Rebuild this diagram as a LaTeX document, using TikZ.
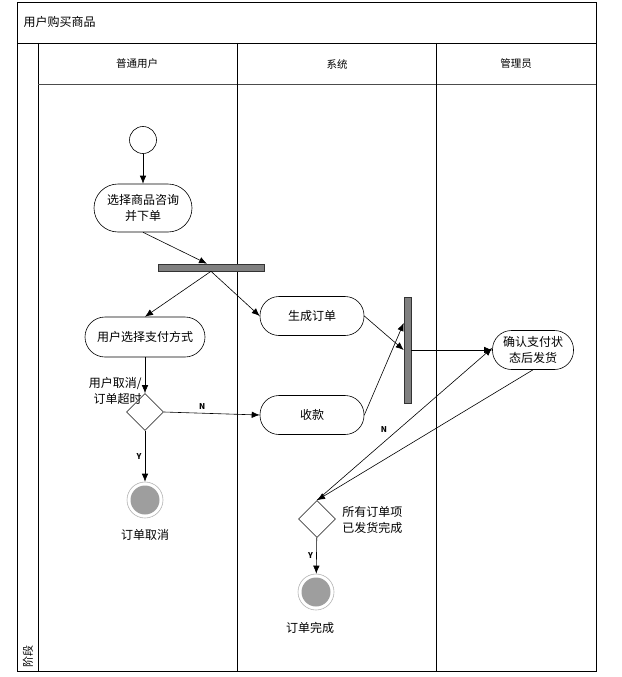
\documentclass[tikz,border=0pt]{standalone}
\usepackage{fontspec}
\setmainfont{Noto Sans CJK SC}
\usepackage{tikz}
\usetikzlibrary{arrows,arrows.meta,shapes.geometric}

\begin{document}
\begin{tikzpicture}[x=1pt,y=-1pt,->,>={Latex[length=8pt,width=6.5pt]},line width=0.6pt,auto,font=\fontsize{12}{16}\selectfont]
  \tikzstyle{action}=[rectangle,draw=black,rounded corners=19pt,minimum width=104pt,minimum height=39pt,align=center,inner sep=2pt]
  \tikzstyle{bar}=[rectangle,draw=black!80,fill=black!50,inner sep=0pt]
  \tikzstyle{choice}=[diamond,draw=black!75,minimum width=37pt,minimum height=37pt,inner sep=0pt]
  \tikzstyle{initial}=[circle,draw=black,minimum size=27pt,inner sep=0pt]
  \tikzstyle{final}=[circle,draw=black!30,minimum size=36pt,inner sep=0pt,
    path picture={\fill[black!38] (path picture bounding box.center) circle (14.5pt);}]
  \tikzstyle{yn}=[font=\fontsize{8}{8}\selectfont\bfseries]
  \tikzstyle{lane}=[-,draw=black,line width=0.7pt]

  \useasboundingbox (0,0) rectangle (621,677);

  % swimlanes
  \draw[lane] (17,2) rectangle (596,671);
  \draw[lane] (17,43) -- (596,43);
  \draw[lane] (38,43) -- (38,671);
  \draw[lane,draw=black!70] (38,84) -- (596,84);
  \draw[lane] (237,43) -- (237,671);
  \draw[lane] (436,43) -- (436,671);

  \node[anchor=west] (title) at (20,22) {用户购买商品};
  \node[font=\fontsize{10.5}{12}\selectfont] (user)  at (137,64) {普通用户};
  \node[font=\fontsize{10.5}{12}\selectfont] (sys)   at (337,64) {系统};
  \node[font=\fontsize{10.5}{12}\selectfont] (admin) at (516,64) {管理员};
  \node[rotate=90,font=\fontsize{11}{12}\selectfont] (stage) at (28,656) {阶段};

  % nodes
  \node[initial] (S)  at (143,140) {};
  \node[action,minimum width=98pt,minimum height=48pt,rounded corners=24pt] (A) at (143,208) {选择商品咨询\\并下单};
  \node[bar,minimum width=106pt,minimum height=7pt] (F) at (211,267.5) {};
  \node[action,minimum width=120pt,minimum height=40pt,rounded corners=20pt] (P) at (145,337) {用户选择支付方式};
  \node[choice] (D1) at (145,412) {};
  \node[final] (E1) at (145,500) {};
  \node (E1t) at (145,535) {订单取消};
  \node[action] (G)  at (312,316) {生成订单};
  \node[action] (R)  at (312,415) {收款};
  \node[bar,minimum width=7pt,minimum height=106pt] (J) at (407.5,350) {};
  \node[action,minimum width=81pt,minimum height=39pt,inner sep=1pt] (C) at (533,350) {确认支付状\\态后发货};
  \node[choice] (D2) at (317,519) {};
  \node[final] (E2) at (316,592) {};
  \node (E2t) at (310,628) {订单完成};

  \node[anchor=east,align=right,inner sep=1pt] (D1t) at (143,391) {用户取消/\\订单超时};
  \node[anchor=west,align=left,inner sep=1pt] (D2t) at (341,520) {所有订单项\\已发货完成};

  % flows
  \path (S)   edge (A)
        (A.south) edge ([xshift=-4pt]F.north)
        (F.south) edge (P.north)
              edge (G.west)
        (P)   edge (D1)
        (D1)  edge node[yn,swap] {Y} (E1)
        (D1.east) edge node[yn,pos=0.4] {N} (R.west)
        (G.east) edge (J.west)
        (R.east) edge ([yshift=27pt]J.west)
        (J.east) edge (C.west)
        (C.south) edge (D2.north)
        (D2.north) edge node[yn,pos=0.42] {N} ([yshift=2pt]C.west)
        (D2)  edge node[yn,swap] {Y} (E2);
\end{tikzpicture}
\end{document}
